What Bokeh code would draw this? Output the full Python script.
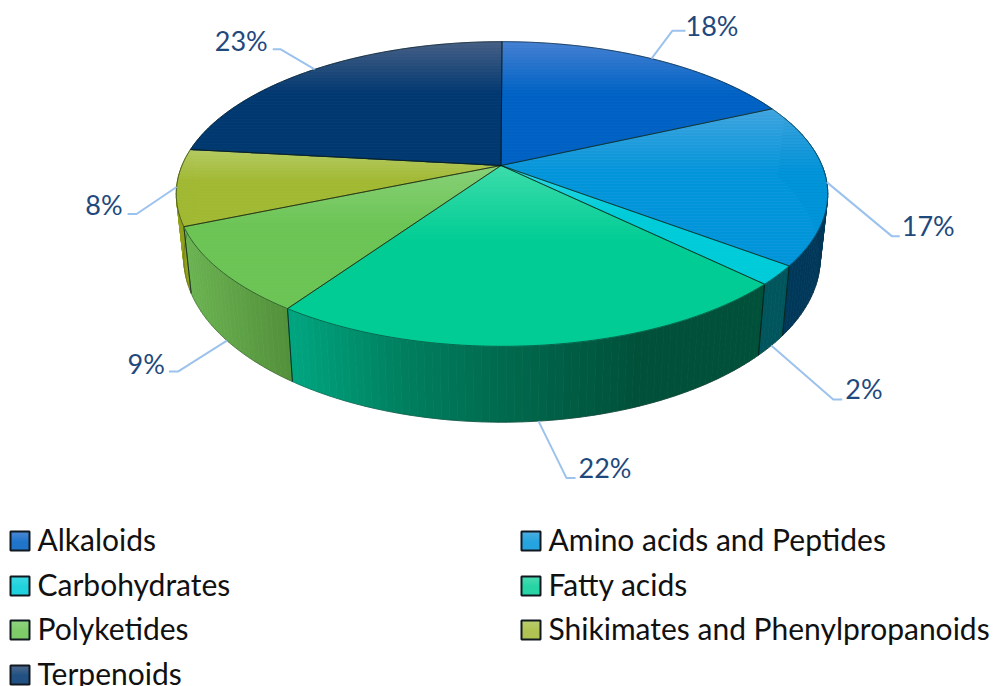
import math
from bokeh.core.properties import value
from bokeh.embed import file_html
from bokeh.models import ColumnDataSource
from bokeh.plotting import figure
from bokeh.resources import INLINE

categories = ["Alkaloids", "Amino acids and Peptides", "Carbohydrates", "Fatty acids",
              "Polyketides", "Shikimates and Phenylpropanoids", "Terpenoids"]
shares = [18, 17, 2, 22, 9, 8, 23]
share_labels = ["18%", "17%", "2%", "22%", "9%", "8%", "23%"]

# Top-face shading per slice: highlight at the upper edge, then the base tone.
top_light = ["#4580d2", "#40a4de", "#30d8e4", "#3cdcaa", "#88d078", "#b4ca62", "#465f85"]
top_base = ["#0062c4", "#0094da", "#00cbd8", "#00cc94", "#6cc455", "#a2b934", "#013870"]

# Side-wall tones as (x position, colour) stops.
wall_stops = [
    [(0, "#003058"), (997, "#003058")],
    [(0, "#00385a"), (997, "#00385a")],
    [(0, "#00565c"), (997, "#00565c")],
    [(288, "#00a680"), (400, "#007f5f"), (500, "#006a4e"), (640, "#00503a"), (770, "#00503a")],
    [(185, "#6bb352"), (290, "#528f39")],
    [(0, "#909f1c"), (997, "#909f1c")],
    [(0, "#003058"), (997, "#003058")],
]

# Leader lines: which rim the anchor sits on, then elbow and shelf offsets from the anchor.
leader_rim = ["top", "top", "bottom", "bottom", "bottom", "top", "top"]
elbow_offset = [(21, -28), (65, 54), (62, 54), (28, 57), (-49, 31), (-40, 27), (-34, -20)]
shelf_offset = [13, 8, 9, 9, -9, -9, -8]
# Label placement relative to the end of its shelf.
label_nudge = [(0, -5), (2, -11), (3, -11), (3, -11), (-4, -8), (-5, -9), (-5, -9)]

# Projection of the disc.
CX, CY = 501.5, 165.0
APEX_X = 500.5
R, H, K = 320.0, 147.0, 0.187


def top_point(theta):
    u, v = math.sin(theta), math.cos(theta)
    d = 1 + K * v
    return CX + R * u / d, CY - H * v / d


def bottom_point(theta):
    x, y = top_point(theta)
    return CX + (x - CX) * 0.977, y + 49 + 0.0777 * y


def hex_rgb(c):
    return tuple(int(c[i:i + 2], 16) for i in (1, 3, 5))


def mix(a, b, t):
    ra, rb = hex_rgb(a), hex_rgb(b)
    return "#%02x%02x%02x" % tuple(round(p + (q - p) * t) for p, q in zip(ra, rb))


def clip_band(points, y0, y1):
    def clip(pts, keep, cross):
        out = []
        for i, p in enumerate(pts):
            q = pts[(i + 1) % len(pts)]
            if keep(p):
                out.append(p)
            if keep(p) != keep(q):
                t = (cross - p[1]) / (q[1] - p[1])
                out.append((p[0] + (q[0] - p[0]) * t, cross))
        return out

    pts = clip(points, lambda p: p[1] >= y0, y0)
    if pts:
        pts = clip(pts, lambda p: p[1] <= y1, y1)
    return pts


def stop_colour(stops, x):
    if x <= stops[0][0]:
        return stops[0][1]
    for (x0, c0), (x1, c1) in zip(stops, stops[1:]):
        if x <= x1:
            return mix(c0, c1, (x - x0) / (x1 - x0))
    return stops[-1][1]


total = sum(shares)
edges = [0.0]
for s in shares:
    edges.append(edges[-1] + s / total * 2 * math.pi)

wall_x, wall_y, wall_c = [], [], []
seam_x, seam_y = [], []
base_x, base_y = [], []

# Side walls, drawn first so the top face covers their upper rim.
FRONT_START = math.radians(70)
FRONT_END = math.radians(295)
for i in [5, 4, 1, 2, 3]:
    a0, a1 = max(edges[i], FRONT_START), min(edges[i + 1], FRONT_END)
    n = max(2, int(math.degrees(a1 - a0) / 1.2))
    steps = [a0 + (a1 - a0) * j / n for j in range(n + 1)]
    for t0, t1 in zip(steps, steps[1:]):
        p0, p1 = top_point(t0), top_point(t1)
        q0, q1 = bottom_point(t0), bottom_point(t1)
        wall_x.append([p0[0], p1[0], q1[0], q0[0]])
        wall_y.append([p0[1], p1[1], q1[1], q0[1]])
        wall_c.append(stop_colour(wall_stops[i], (p0[0] + p1[0]) / 2))
    base_x.append([bottom_point(t)[0] for t in steps])
    base_y.append([bottom_point(t)[1] for t in steps])
    for t in (a0, a1):
        if FRONT_START < t < FRONT_END:
            seam_x.append([top_point(t)[0], bottom_point(t)[0]])
            seam_y.append([top_point(t)[1], bottom_point(t)[1]])

# Top face: each sector is cut into thin horizontal bands for its shading.
face_x, face_y, face_c = [], [], []
rim_x, rim_y = [], []
for i in range(len(shares)):
    a0, a1 = edges[i], edges[i + 1]
    n = max(3, int(math.degrees(a1 - a0) / 1.5))
    outline = [(APEX_X, CY)] + [top_point(a0 + (a1 - a0) * j / n) for j in range(n + 1)]
    ymin = min(p[1] for p in outline)
    ymax = max(p[1] for p in outline)
    y = ymin
    while y < ymax:
        band = clip_band(outline, y, y + 3)
        if len(band) >= 3:
            t = (y + 1.5 - ymin) / (ymax - ymin)
            face_x.append([p[0] for p in band])
            face_y.append([p[1] for p in band])
            face_c.append(mix(top_light[i], top_base[i], min(1.0, t / 0.42)))
        y += 3
    rim_x.append([p[0] for p in outline] + [APEX_X])
    rim_y.append([p[1] for p in outline] + [CY])

p = figure(width=997, height=686, x_range=(0, 997), y_range=(686, 0),
           output_backend="svg", toolbar_location=None, min_border=0)
p.axis.visible = False
p.grid.visible = False
p.outline_line_color = None

walls = ColumnDataSource(dict(xs=wall_x, ys=wall_y, c=wall_c))
p.patches("xs", "ys", source=walls, fill_color="c", line_color="c", line_width=0.8)
p.multi_line(seam_x, seam_y, line_color="#0a1a14", line_alpha=0.55, line_width=1)
p.multi_line(base_x, base_y, line_color="#2a2a2a", line_alpha=0.3, line_width=1)

faces = ColumnDataSource(dict(xs=face_x, ys=face_y, c=face_c))
p.patches("xs", "ys", source=faces, fill_color="c", line_color="c", line_width=0.8)
p.multi_line(rim_x, rim_y, line_color="#0a1a14", line_alpha=0.55, line_width=1)

# Leader lines and percentage labels.
for i, lab in enumerate(share_labels):
    mid = (edges[i] + edges[i + 1]) / 2
    ax, ay = top_point(mid) if leader_rim[i] == "top" else bottom_point(mid)
    ex, ey = ax + elbow_offset[i][0], ay + elbow_offset[i][1]
    sx = ex + shelf_offset[i]
    p.line([ax, ex, sx], [ay, ey, ey], line_color="#9cc2ee", line_width=2)
    right_side = shelf_offset[i] > 0
    p.text([sx + label_nudge[i][0]], [ey + label_nudge[i][1]], text=[lab],
           text_font=value("Lato"), text_font_size="27px", text_color="#1f497d",
           text_align="left" if right_side else "right", text_baseline="middle")

# Legend in two columns.
col_x = [10, 521]
row_y = [531, 576, 620, 665]
for i, name in enumerate(categories):
    x0 = col_x[i % 2]
    y0 = row_y[i // 2]
    for j in range(19):
        p.quad(left=x0, right=x0 + 19, top=y0 + j, bottom=y0 + j + 1.2,
               fill_color=mix(top_light[i], top_base[i], min(1.0, 0.3 + j / 14)), line_color=None)
    p.quad(left=x0, right=x0 + 19, top=y0, bottom=y0 + 19, fill_color=None,
           line_color="#101820", line_width=2)
    p.text([x0 + 27], [y0 + 7.5], text=[name], text_font=value("Lato"), text_font_size="30px",
           text_color="#111111", text_align="left", text_baseline="middle")

open("out.html", "w").write(file_html(p, INLINE))
